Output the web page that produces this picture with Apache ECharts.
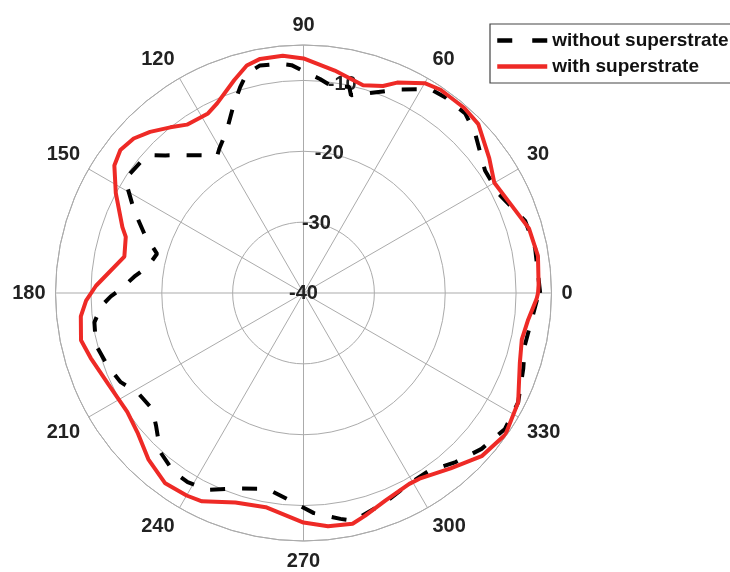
<!DOCTYPE html>
<html><head><meta charset="utf-8">
<script src="https://cdn.jsdelivr.net/npm/echarts@6/dist/echarts.min.js"></script>
<style>html,body{margin:0;padding:0;background:#fff}#c{width:730px;height:572px}</style>
</head><body><div id="c"></div>
<script>
// Radial scale (dB) and angle ticks
const radialMin = -40;
const radialMax = -5;
const radialStep = 10;
const angleStep = 30;

const seriesNames = ['without superstrate', 'with superstrate'];

// with superstrate (red, solid)
const redAngles = [0, 2, 9, 16, 24, 30, 36, 44, 49, 56, 60, 66, 69, 74, 82, 90, 95, 100.5, 104, 108,
  114.5, 118, 124.7, 128.8, 133.6, 137.7, 142, 146, 152, 160, 162.5, 168.5, 178, 182, 186, 192, 197, 205, 214, 220,
  227, 234, 240, 244, 252, 260, 270, 276, 282, 285.5, 291.5, 299, 302, 310, 317.5, 325, 333, 342, 348, 353, 358.5, 360];
const redValues = [-6.9, -6.8, -6.5, -6.9, -8.3, -8.9, -7.6, -5.7, -5.4, -5.4, -5.8, -7.5, -8.7, -9.5, -8.3, -6.9, -6.4, -6.4, -6.9, -8.4,
  -10.6, -11.3, -11.1, -10.0, -8.6, -7.6, -7.2, -7.8, -10.0, -12.8, -13.7, -14.2, -10.7, -9.3, -8.4, -7.9, -8.6, -9.6, -10.0, -9.4,
  -7.9, -6.8, -7.0, -7.3, -8.9, -9.3, -7.6, -6.9, -6.7, -7.4, -8.5, -9.2, -9.1, -7.7, -5.9, -5.2, -6.0, -7.9, -8.5, -8.1, -7.1, -6.9];

// without superstrate (black, dashed)
const blackAngles = [0, 11, 18, 27, 34, 43, 48, 54, 58, 65, 73, 76.5, 77.5, 82, 85.6, 89.6, 93, 95.8, 100.8, 104.5,
  107.1, 110.7, 115.2, 120.2, 122.1, 126.9, 131.8, 135.1, 138, 141.2, 146.7, 149, 154, 159.5, 165, 170.4, 174.5, 178.8, 181, 183.7,
  188, 194, 200.4, 206, 211, 217.5, 222, 228, 234, 238.5, 244, 252, 259.5, 267.4, 272.7, 279.3, 282.4, 291.4, 298.8, 305,
  312, 318.8, 326, 333, 341, 346.6, 351.7, 359.3, 360];
const blackValues = [-6.6, -6.7, -7.1, -9.1, -9.1, -6.9, -5.9, -5.9, -6.1, -8.3, -10.6, -11.3, -10.2, -10.6, -9.7, -8.8, -7.8, -7.5, -7.3, -8.0,
  -9.6, -11.9, -14.6, -16.4, -17.1, -15.7, -13.9, -12.5, -10.9, -10.5, -10.2, -11.0, -13.4, -16.0, -18.6, -17.7, -16.0, -14.2, -12.8, -11.4,
  -10.2, -9.8, -10.5, -11.3, -12.7, -13.1, -12.0, -9.8, -8.8, -8.7, -9.1, -11.0, -11.9, -10.4, -8.9, -7.7, -7.1, -8.3, -9.2, -9.3,
  -7.9, -6.6, -5.7, -6.0, -7.2, -7.9, -7.7, -6.9, -6.6];

const FONT = "'Liberation Sans', Arial, sans-serif";
const GRID = '#ababab';
const chart = echarts.init(document.getElementById('c'), null, {renderer: 'canvas'});
chart.setOption({
  animation: false,
  backgroundColor: '#fff',
  polar: [
    {center: [303.5, 293], radius: 248},
    {center: [303.5, 293], radius: 248}
  ],
  angleAxis: [
    {
      polarIndex: 0, type: 'value', min: 0, max: 360, interval: angleStep,
      startAngle: 0, clockwise: false,
      axisLine: {show: true, lineStyle: {color: GRID, width: 1}},
      axisTick: {show: false},
      splitLine: {show: true, lineStyle: {color: GRID, width: 1}},
      axisLabel: {margin: 10, fontSize: 20, fontWeight: 'bold', color: '#222', fontFamily: FONT}
    },
    {
      polarIndex: 1, type: 'value', min: 0, max: 360, startAngle: 79.5, clockwise: false,
      show: false
    }
  ],
  radiusAxis: [
    {
      polarIndex: 0, type: 'value', min: radialMin, max: radialMax, interval: radialStep,
      axisLine: {show: false}, axisTick: {show: false}, axisLabel: {show: false},
      splitLine: {show: true, lineStyle: {color: GRID, width: 1}}
    },
    {
      polarIndex: 1, type: 'value', min: radialMin, max: radialMax, interval: radialStep,
      axisLine: {show: false}, axisTick: {show: false}, splitLine: {show: false},
      axisLabel: {
        margin: 0, align: 'center', verticalAlign: 'middle', padding: [4, 0, 0, 0],
        fontSize: 20, fontWeight: 'bold', color: '#222', fontFamily: FONT,
        formatter: v => (v === radialMax ? '' : String(v))
      }
    }
  ],
  legend: {
    orient: 'vertical', left: 490, top: 24,
    padding: [7, 10, 7, 5], itemWidth: 50, itemHeight: 14, itemGap: 7,
    borderColor: '#444', borderWidth: 1.2, backgroundColor: '#fff',
    itemStyle: {opacity: 0},
    lineStyle: {width: 4.5},
    textStyle: {fontSize: 19, fontWeight: 'bold', color: '#111', fontFamily: FONT},
    data: [
      {name: seriesNames[0], lineStyle: {type: [15, 20], width: 4.5}},
      {name: seriesNames[1], lineStyle: {width: 4.5}}
    ]
  },
  series: [
    {
      name: seriesNames[0], type: 'line', coordinateSystem: 'polar', polarIndex: 0,
      symbol: 'none', showSymbol: false,
      lineStyle: {color: '#000', width: 4, type: [15, 17]},
      itemStyle: {color: '#000'},
      data: blackAngles.map((a, i) => [blackValues[i], a])
    },
    {
      name: seriesNames[1], type: 'line', coordinateSystem: 'polar', polarIndex: 0,
      symbol: 'none', showSymbol: false,
      lineStyle: {color: '#ee2a26', width: 4},
      itemStyle: {color: '#ee2a26'},
      data: redAngles.map((a, i) => [redValues[i], a])
    }
  ]
});
</script></body></html>
